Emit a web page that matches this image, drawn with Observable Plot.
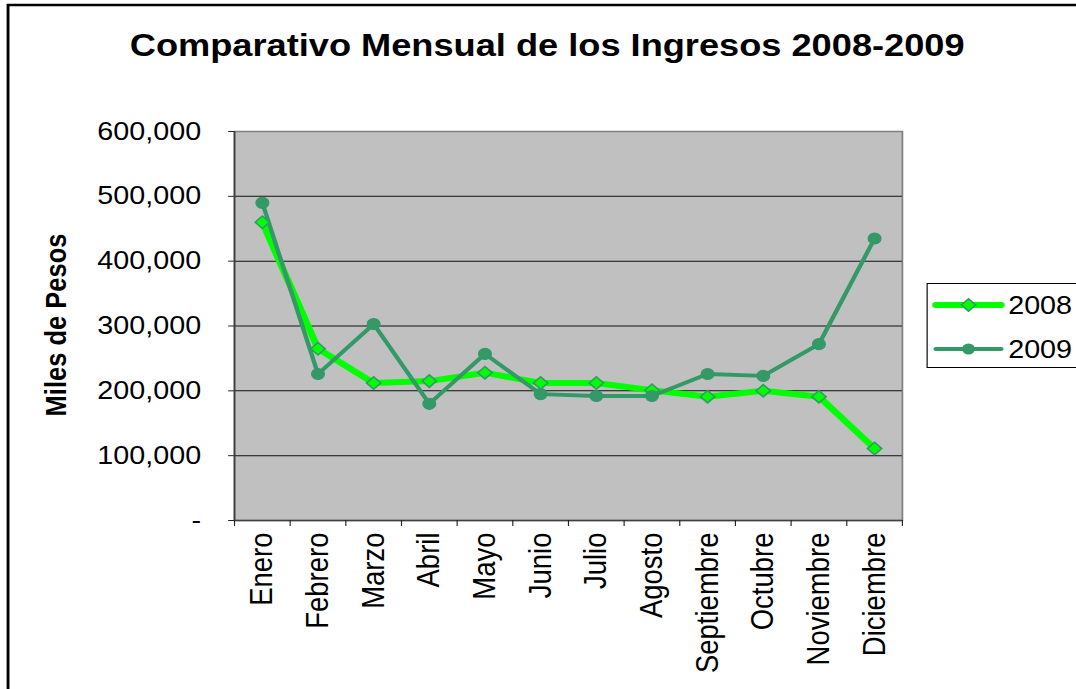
<!DOCTYPE html>
<html>
<head>
<meta charset="utf-8">
<script src="https://cdn.jsdelivr.net/npm/d3@7"></script>
<script src="https://cdn.jsdelivr.net/npm/@observablehq/plot@0.6"></script>
<style>
  html, body { margin: 0; padding: 0; background: #fff; overflow: hidden; }
  #wrap { position: relative; width: 936px; height: 689px; transform: scaleX(1.14957); transform-origin: 0 0; }
  #wrap > svg { position: absolute; left: 0; top: 0; }
</style>
</head>
<body>
<div id="wrap"></div>
<script>
const months = ["Enero", "Febrero", "Marzo", "Abril", "Mayo", "Junio", "Julio", "Agosto", "Septiembre", "Octubre", "Noviembre", "Diciembre"];
const ingresos2008 = [460000, 265000, 212000, 215000, 228000, 212000, 212000, 201000, 191000, 200000, 191000, 111000];
const ingresos2009 = [490000, 226000, 303000, 180000, 257000, 195000, 192000, 192000, 226000, 223000, 272000, 435000];
const yTicks = [0, 100000, 200000, 300000, 400000, 500000, 600000];
const gridTicks = [100000, 200000, 300000, 400000, 500000];
const seriesNames = ["2008", "2009"];
const title = "Comparativo Mensual de los Ingresos 2008-2009";
const yLabel = "Miles de Pesos";

const c2008 = "#00ff00";
const c2009 = "#339966";
const font = "'Liberation Sans', Arial, Helvetica, sans-serif";

const d2008 = months.map((m, i) => ({i: i + 0.5, month: m, value: ingresos2008[i]}));
const d2009 = months.map((m, i) => ({i: i + 0.5, month: m, value: ingresos2009[i]}));

const W = 936, H = 689;
const chart = Plot.plot({
  width: W,
  height: H,
  marginLeft: 203.5,
  marginRight: 151.5,
  marginTop: 131,
  marginBottom: 169,
  style: {fontFamily: font, background: "transparent", color: "#000"},
  x: {type: "linear", domain: [0, 12]},
  y: {domain: [0, 600000]},
  marks: [
    Plot.frame({fill: "#c0c0c0", stroke: "#808080", strokeWidth: 1.5}),
    Plot.ruleY(gridTicks, {stroke: "#111", strokeWidth: 1}),
    Plot.ruleX([0], {stroke: "#404040", strokeWidth: 1.5}),
    Plot.ruleY([0], {stroke: "#404040", strokeWidth: 1.5}),
    Plot.axisY(yTicks, {
      tickSize: 5, tickPadding: 24, fontSize: 25, label: null, stroke: "#222",
      tickFormat: d => d === 0 ? "-" : d3.format(",")(d)
    }),
    Plot.axisX(d3.range(13), {tickSize: 6, tickFormat: () => "", label: null, stroke: "#222"}),
    Plot.axisX(months.map((m, i) => i + 0.5), {
      tickSize: 0, tickPadding: 12, tickRotate: -90, fontSize: 27.5, label: null,
      tickFormat: d => months[Math.floor(d)]
    }),
    Plot.line(d2008, {x: "i", y: "value", stroke: c2008, strokeWidth: 6, strokeLinejoin: "round"}),
    Plot.line(d2009, {x: "i", y: "value", stroke: c2009, strokeWidth: 3.8, strokeLinejoin: "round"}),
    Plot.dot(d2008, {x: "i", y: "value", symbol: "diamond2", r: 5.6, fill: c2008, stroke: c2009, strokeWidth: 1.5}),
    Plot.dot(d2009, {x: "i", y: "value", symbol: "circle", r: 5.6, fill: c2009, stroke: c2009, strokeWidth: 1})
  ]
});

const wrap = document.getElementById("wrap");
wrap.appendChild(chart);

// Overlay: border, title, y label, legend
const svg = d3.select(wrap).append("svg")
  .attr("width", W).attr("height", H)
  .style("font-family", font);

svg.append("rect")
  .attr("x", 7).attr("y", 5).attr("width", 2000).attr("height", 2000)
  .attr("fill", "none").attr("stroke", "#000").attr("stroke-width", 2.5);

svg.append("text")
  .attr("x", 476).attr("y", 56)
  .attr("text-anchor", "middle")
  .attr("font-weight", "bold").attr("font-size", 31.5)
  .text(title);

svg.append("text")
  .attr("transform", "translate(57,325) rotate(-90)")
  .attr("text-anchor", "middle")
  .attr("font-weight", "bold").attr("font-size", 25.5)
  .text(yLabel);

const lg = svg.append("g");
lg.append("rect")
  .attr("x", 806.5).attr("y", 283.5).attr("width", 300).attr("height", 84)
  .attr("fill", "#fff").attr("stroke", "#000").attr("stroke-width", 1);

const legendItems = [
  {name: seriesNames[0], color: c2008, width: 6, y: 305, sym: "diamond"},
  {name: seriesNames[1], color: c2009, width: 4, y: 349, sym: "circle"}
];
legendItems.forEach(it => {
  lg.append("line")
    .attr("x1", 814).attr("x2", 871).attr("y1", it.y).attr("y2", it.y)
    .attr("stroke", it.color).attr("stroke-width", it.width).attr("stroke-linecap", "round");
  if (it.sym === "diamond") {
    lg.append("path")
      .attr("transform", `translate(842.5,${it.y})`)
      .attr("d", d3.symbol(d3.symbolDiamond2, 5.6 * 5.6 * Math.PI)())
      .attr("fill", c2008).attr("stroke", c2009).attr("stroke-width", 1.5);
  } else {
    lg.append("circle")
      .attr("cx", 842.5).attr("cy", it.y).attr("r", 5.6)
      .attr("fill", c2009);
  }
  lg.append("text")
    .attr("x", 877).attr("y", it.y + 9)
    .attr("font-size", 25)
    .text(it.name);
});
</script>
</body>
</html>
